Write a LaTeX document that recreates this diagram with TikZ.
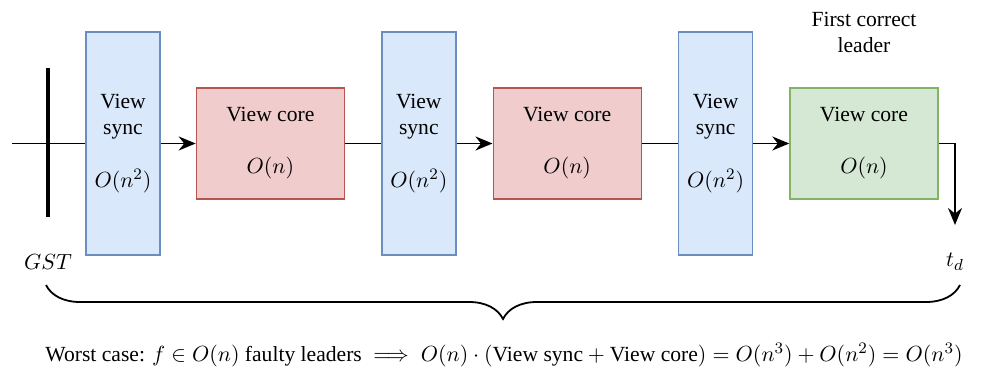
\documentclass[tikz,border=0pt]{standalone}
\usepackage{amsmath}
\usepackage{amssymb}
\usepackage[no-math]{fontspec}
\setmainfont{Liberation Serif}
\usepackage{tikz}
\usetikzlibrary{positioning, arrows.meta, decorations.pathreplacing}

\definecolor{syncfill}{HTML}{DAE8FC}
\definecolor{syncline}{HTML}{6C8EBF}
\definecolor{corefill}{HTML}{F0CCCC}
\definecolor{coreline}{HTML}{B85450}
\definecolor{goodfill}{HTML}{D5E8D4}
\definecolor{goodline}{HTML}{82B366}

\begin{document}
\begin{tikzpicture}[
    % Define styles for the boxes and lines
    node distance=18pt,
    font=\fontsize{10.8pt}{13pt}\selectfont,
    syncbox/.style={draw=syncline, fill=syncfill, line width=0.7pt, align=center, minimum width=37pt, minimum height=111.5pt, inner sep=0pt},
    corebox/.style={draw=coreline, fill=corefill, line width=0.7pt, align=center, minimum width=74pt, minimum height=55.5pt, inner sep=0pt},
    goodbox/.style={corebox, draw=goodline, fill=goodfill},
    link/.style={line width=0.9pt},
    arrow/.style={link, -{Stealth[length=8.5pt, width=7pt]}},
    tag/.style={inner sep=0pt}
]
    \useasboundingbox (0,0) rectangle (493pt,-183.5pt);

    % Define the nodes
    \node[syncbox] (sync1) at (61.5pt,-71.75pt) {View\\sync\\[13.5pt]$O(n^2)$};

    \node[corebox, right=17.5pt of sync1] (core1) {View core\\[13pt]$O(n)$};

    \node[syncbox, right=of core1] (sync2) {View\\sync\\[13.5pt]$O(n^2)$};

    \node[corebox, right=of sync2] (core2) {View core\\[13pt]$O(n)$};

    \node[syncbox, right=of core2] (sync3) {View\\sync\\[13.5pt]$O(n^2)$};

    \node[goodbox, right=of sync3] (core3) {View core\\[13pt]$O(n)$};

    \node[align=center, inner sep=0pt, above=17pt of core3] (leader) {First correct\\leader};

    % Time line, GST tick and end of the run
    \coordinate (start) at (6pt,-71.75pt);
    \coordinate (gsttop) at (24pt,-34pt);
    \coordinate (gstbot) at (24pt,-108.5pt);
    \coordinate (finish) at (477.5pt,-112.5pt);

    \node[tag] (gst) at (24pt,-131pt) {$GST$};
    \node[tag] (td) at (477.5pt,-131pt) {$t_d$};

    % Draw the lines and arrows
    \draw[link] (start) -- (sync1);
    \draw[line width=1.6pt] (gsttop) -- (gstbot);

    \draw[arrow] (sync1) -- (core1);

    \draw[link] (core1) -- (sync2);

    \draw[arrow] (sync2) -- (core2);

    \draw[link] (core2) -- (sync3);

    \draw[arrow] (sync3) -- (core3);

    \draw[arrow] (core3.east) -| (finish);

    % Brace under the whole run and the cost below it
    \coordinate (braceleft) at (23pt,-142.5pt);
    \coordinate (braceright) at (480pt,-142.5pt);
    \draw[link, decorate, decoration={brace, mirror, amplitude=17pt}] (braceleft) -- (braceright);

    \node (cost) at (252pt,-177.5pt) {Worst case: $f \in O(n)$ faulty leaders $\implies O(n)\cdot(\text{View sync}+\text{View core}) = O(n^3)+O(n^2) = O(n^3)$};
\end{tikzpicture}
\end{document}
